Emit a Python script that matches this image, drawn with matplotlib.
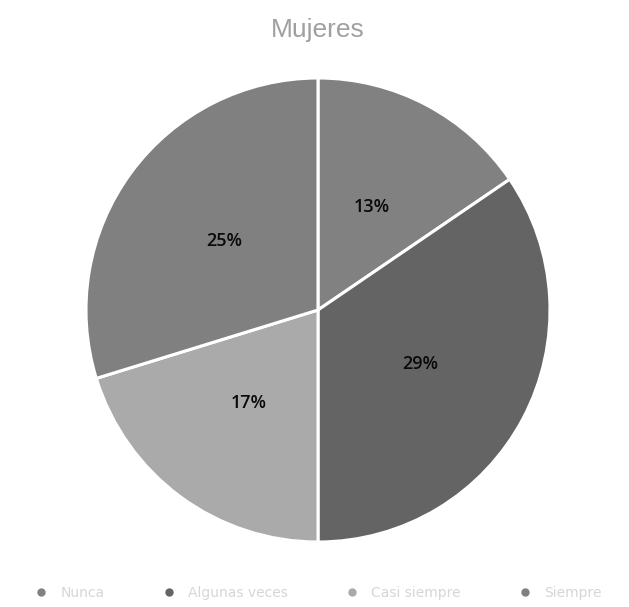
import matplotlib

matplotlib.use("Agg")
import matplotlib.pyplot as plt
import numpy as np
from matplotlib.lines import Line2D

# data
categories = ["Nunca", "Algunas veces", "Casi siempre", "Siempre"]
values = [13, 29, 17, 25]
value_labels = ["13%", "29%", "17%", "25%"]
slice_colors = ["#818181", "#646464", "#aaaaaa", "#808080"]

fig = plt.figure(figsize=(6.29, 6.07), dpi=100)
fig.patch.set_facecolor("white")

cx, cy, r = 318, 607 - 310, 232
ax = fig.add_axes([(cx - r) / 629, (cy - r) / 607, 2 * r / 629, 2 * r / 607])

wedges, _ = ax.pie(
    values,
    colors=slice_colors,
    startangle=90,
    counterclock=False,
    radius=1.0,
    wedgeprops={"edgecolor": "white", "linewidth": 2.2},
)
ax.set_xlim(-1.0, 1.0)
ax.set_ylim(-1.0, 1.0)
ax.set_aspect("equal")

for w, lab in zip(wedges, value_labels):
    mid = np.deg2rad((w.theta1 + w.theta2) / 2)
    ax.text(0.5 * np.cos(mid), 0.5 * np.sin(mid), lab, ha="center", va="center",
            fontsize=13, fontweight="semibold", color="#0a0a0a", family="Open Sans")

fig.text(cx / 629, 1 - 30 / 607, "Mujeres", ha="center", va="center",
         fontsize=19, color="#a0a0a0", family="Liberation Sans")

handles = [Line2D([], [], marker="o", linestyle="none", markersize=5,
                  markerfacecolor=c, markeredgecolor=c) for c in slice_colors]
fig.legend(handles, categories, loc="center", bbox_to_anchor=(0.5, 1 - 593 / 607),
           ncol=4, frameon=False, fontsize=10, labelcolor="#d6d6d6",
           handletextpad=0.4, columnspacing=3.6)

fig.savefig("out.png", dpi=100, facecolor="white")
